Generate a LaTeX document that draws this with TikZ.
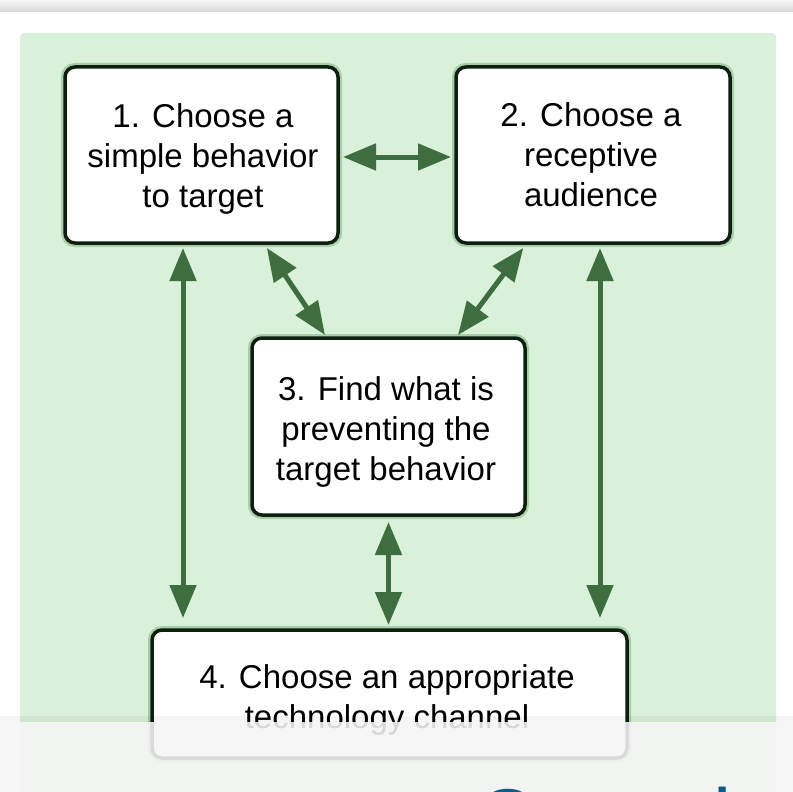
\documentclass[tikz,border=0pt]{standalone}
\usepackage{fontspec}
\setmainfont{Liberation Sans}
\usetikzlibrary{arrows.meta}
\definecolor{bggreen}{HTML}{D9F0D9}
\definecolor{arrgreen}{HTML}{3E6E40}
\definecolor{boxline}{HTML}{0F1F0F}
\definecolor{halo}{HTML}{4F8F4F}
\definecolor{overlaygray}{HTML}{F5F5F5}
\definecolor{brandblue}{HTML}{0D5C86}
\begin{document}
\begin{tikzpicture}[x=1pt,y=-1pt,
  stepbox/.style={draw=boxline, line width=3.5pt, fill=white, rounded corners=10pt,
    inner sep=0pt, outer sep=0pt,
    preaction={draw=halo, draw opacity=0.35, line width=8pt}},
  lbl/.style={align=center, font=\fontsize{33}{40}\selectfont, inner sep=0pt},
  link/.style={draw=arrgreen, line width=5pt,
    {Triangle[length=33pt,width=26pt]}-{Triangle[length=33pt,width=26pt]}},
]
\useasboundingbox (0,0) rectangle (793,792);
\fill[white] (0,0) rectangle (793,792);
% top shadow strip
\shade[top color=gray!6, bottom color=gray!32] (0,0) rectangle (793,12);
% green panel
\fill[bggreen, rounded corners=4pt] (20,33) rectangle (776,810);

% boxes
\node[stepbox, minimum width=273pt, minimum height=176pt] (b1) at (201.5,155) {};
\node[stepbox, minimum width=274pt, minimum height=176pt] (b2) at (593,155) {};
\node[stepbox, minimum width=273pt, minimum height=177pt] (b3) at (388.5,426.5) {};
\node[stepbox, minimum width=475pt, minimum height=128pt] (b4) at (389.5,694) {};

% labels
\node[lbl] (t1) at (203,158.5) {1. Choose a\\simple behavior\\to target};
\node[lbl] (t2) at (591,155) {2. Choose a\\receptive\\audience};
\node[lbl] (t3) at (386,431.5) {3. Find what is\\preventing the\\target behavior};
\node[lbl] (t4) at (387,699.5) {4. Choose an appropriate\\technology channel};

% connectors
\draw[link, shorten <=5pt, shorten >=5pt] ([yshift=-2pt]b1.east) -- ([yshift=-2pt]b2.west);
\draw[link, shorten <=6pt, shorten >=3.6pt] ([xshift=62pt]b1.south) -- ([xshift=-61.5pt]b3.north);
\draw[link, shorten <=6.2pt, shorten >=3.7pt] ([xshift=-66pt]b2.south) -- ([xshift=67.3pt]b3.north);
\draw[link, shorten <=5pt, shorten >=12pt] ([xshift=-18.5pt]b1.south) -- ([xshift=-18.5pt]b1.south |- b4.north);
\draw[link, shorten <=5pt, shorten >=12pt] ([xshift=7pt]b2.south) -- ([xshift=7pt]b2.south |- b4.north);
\draw[link, shorten <=7pt, shorten >=5pt] (b3.south) -- (b3.south |- b4.north);

% bottom overlay
\fill[black, opacity=0.04] (0,716) rectangle (793,722);
\fill[overlaygray, opacity=0.88] (0,722) rectangle (793,792);
\node[anchor=base west, text=brandblue, font=\fontsize{82}{82}\selectfont, inner sep=0pt] (brand) at (476,846) {Consul};
\end{tikzpicture}
\end{document}
